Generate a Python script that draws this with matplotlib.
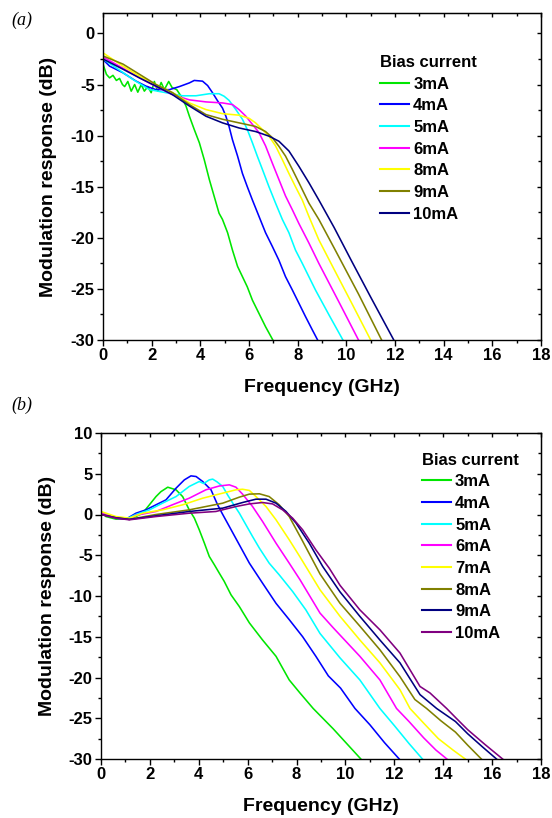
import matplotlib
matplotlib.use("Agg")
import matplotlib.pyplot as plt
from matplotlib.ticker import MultipleLocator

plt.rcParams['font.family'] = ['Liberation Sans', 'DejaVu Sans']
plt.rcParams['font.weight'] = 'bold'
plt.rcParams['axes.unicode_minus'] = False

# ---------------- Panel (a) data ----------------
labels_a = ['3mA', '4mA', '5mA', '6mA', '8mA', '9mA', '10mA']
colors_a = ['#00e600', '#0000ff', '#00ffff', '#ff00ff', '#ffff00', '#808000', '#000080']

f_a_3 = [0, 0.14, 0.27, 0.41, 0.55, 0.68, 0.80, 0.89, 1.02, 1.16, 1.30, 1.43, 1.57, 1.70, 1.84,
         1.98, 2.11, 2.25, 2.39, 2.52, 2.70, 2.84, 3.03, 3.21, 3.41, 3.55, 3.75, 3.96, 4.16, 4.37,
         4.57, 4.77, 4.91, 5.12, 5.32, 5.53, 5.73, 5.93, 6.14, 6.41, 6.68, 6.98]
db_a_3 = [-3.0, -4.0, -4.35, -4.1, -4.6, -4.4, -5.0, -5.2, -4.7, -5.65, -5.0, -5.75, -5.0, -5.65, -5.2,
          -5.8, -4.7, -5.65, -4.8, -5.5, -4.7, -5.3, -5.5, -6.15, -7.1, -8.1, -9.4, -10.7, -12.35, -14.3,
          -15.95, -17.6, -18.2, -19.5, -21.2, -22.8, -23.8, -24.8, -26.1, -27.4, -28.7, -30.0]

f_a_4 = [0, 0.27, 0.82, 1.36, 1.77, 2.18, 2.73, 3.14, 3.55, 3.75, 4.09, 4.30, 4.50, 4.71, 4.91, 5.05,
         5.18, 5.32, 5.53, 5.73, 5.93, 6.14, 6.41, 6.68, 6.96, 7.23, 7.50, 7.78, 8.05, 8.32, 8.60, 8.82]
db_a_4 = [-2.55, -3.2, -3.85, -4.67, -5.16, -5.5, -5.5, -5.2, -4.84, -4.6, -4.67, -5.1, -5.8, -6.6, -7.3, -8.1,
          -9.1, -10.4, -12.0, -13.7, -15.0, -16.3, -17.9, -19.5, -20.85, -22.2, -23.8, -25.1, -26.4, -27.7, -29.0, -30.0]

f_a_5 = [0, 0.5, 1.23, 1.91, 2.59, 3.27, 3.82, 4.37, 4.77, 4.98, 5.18, 5.46, 5.73, 5.93, 6.14, 6.34,
         6.55, 6.82, 7.09, 7.37, 7.64, 7.91, 8.19, 8.46, 8.73, 9.30, 9.86]
db_a_5 = [-2.5, -3.3, -4.5, -5.5, -5.8, -6.1, -6.1, -5.9, -5.9, -6.15, -6.55, -7.45, -8.4, -9.4, -10.7, -12.0,
          -13.3, -15.0, -16.6, -18.2, -19.5, -21.2, -22.5, -23.8, -25.1, -27.6, -30.0]

f_a_6 = [0, 0.82, 1.5, 2.18, 2.86, 3.55, 4.23, 4.91, 5.32, 5.59, 5.87, 6.14, 6.41, 6.68, 6.96, 7.23,
         7.5, 7.78, 8.05, 8.46, 8.87, 9.7, 10.5]
db_a_6 = [-2.3, -3.4, -4.35, -5.2, -6.0, -6.5, -6.7, -6.8, -6.96, -7.45, -8.1, -8.9, -9.7, -11.0, -12.7, -14.3,
          -15.9, -17.25, -18.6, -20.5, -22.5, -26.3, -30.0]

f_a_8 = [0, 0.82, 1.5, 2.18, 2.86, 3.55, 4.23, 4.91, 5.59, 6.0, 6.27, 6.55, 6.82, 7.09, 7.37, 7.64,
         7.91, 8.19, 8.46, 8.87, 9.5, 10.2, 11.0]
db_a_8 = [-1.9, -3.2, -4.2, -5.0, -5.8, -6.8, -7.45, -7.85, -8.0, -8.3, -8.75, -9.4, -10.05, -11.0, -12.35, -13.7,
          -15.0, -16.3, -17.9, -20.2, -23.1, -26.3, -30.0]

f_a_9 = [0, 0.82, 1.5, 2.18, 2.86, 3.55, 4.23, 4.91, 5.59, 6.27, 6.68, 6.96, 7.23, 7.5, 7.78, 8.05,
         8.46, 8.87, 9.5, 10.5, 11.45]
db_a_9 = [-2.2, -3.0, -4.0, -5.0, -5.8, -6.96, -7.94, -8.4, -8.75, -9.1, -9.6, -10.2, -11.05, -12.0, -13.3, -14.6,
          -16.6, -18.2, -21.0, -25.5, -30.0]

f_a_10 = [0, 0.82, 1.5, 2.18, 2.86, 3.55, 4.23, 4.91, 5.59, 6.27, 6.82, 7.23, 7.64, 8.05, 8.46, 8.87,
          9.5, 10.2, 11.0, 11.95]
db_a_10 = [-2.5, -3.5, -4.35, -5.16, -6.0, -7.1, -8.1, -8.75, -9.25, -9.6, -10.05, -10.55, -11.5, -13.0, -14.6, -16.3,
           -19.0, -22.2, -25.8, -30.0]

series_a = [(f_a_3, db_a_3), (f_a_4, db_a_4), (f_a_5, db_a_5), (f_a_6, db_a_6),
            (f_a_8, db_a_8), (f_a_9, db_a_9), (f_a_10, db_a_10)]

# ---------------- Panel (b) data ----------------
labels_b = ['3mA', '4mA', '5mA', '6mA', '7mA', '8mA', '9mA', '10mA']
colors_b = ['#00e600', '#0000ff', '#00ffff', '#ff00ff', '#ffff00', '#808000', '#000080', '#800080']

f_b_3 = [0, 0.2, 0.61, 1.02, 1.43, 1.7, 1.98, 2.25, 2.45, 2.73, 3.07, 3.34, 3.61, 3.82, 4.02, 4.23,
         4.43, 4.64, 4.84, 5.04, 5.32, 5.66, 6.07, 6.61, 7.16, 7.7, 8.14, 8.68, 9.5, 10.63]
db_b_3 = [0.37, -0.25, -0.57, -0.57, -0.25, 0.16, 1.19, 2.2, 2.8, 3.35, 3.03, 2.2, 0.57, -0.45, -1.88, -3.52,
          -5.15, -6.18, -7.2, -8.2, -9.86, -11.3, -13.3, -15.4, -17.4, -20.3, -21.9, -23.8, -26.3, -30.0]

f_b_4 = [0, 0.61, 1.02, 1.43, 1.84, 2.25, 2.66, 3.07, 3.41, 3.68, 3.89, 4.16, 4.5, 4.77, 4.98, 5.25,
         5.66, 6.07, 6.61, 7.16, 7.7, 8.25, 8.79, 9.3, 9.8, 10.39, 11.0, 11.6, 12.2]
db_b_4 = [0.2, -0.45, -0.57, 0.16, 0.57, 1.19, 1.8, 3.23, 4.25, 4.74, 4.66, 4.05, 3.03, 1.19, 0.0, -1.47,
          -3.72, -5.97, -8.43, -10.9, -12.9, -15.0, -17.4, -19.8, -21.3, -23.8, -25.8, -28.0, -30.0]

f_b_5 = [0, 0.61, 1.02, 1.43, 1.98, 2.52, 3.07, 3.61, 4.02, 4.2, 4.43, 4.57, 4.75, 4.98, 5.18, 5.39,
         5.66, 5.93, 6.2, 6.48, 6.88, 7.29, 7.84, 8.38, 8.96, 9.78, 10.59, 11.41, 12.0, 12.6, 13.15]
db_b_5 = [0.2, -0.45, -0.57, 0.0, 0.57, 1.4, 2.2, 3.44, 4.05, 3.8, 4.25, 4.34, 4.0, 3.44, 2.4, 1.4,
          0.16, -1.27, -2.7, -4.13, -5.97, -7.4, -9.45, -11.7, -14.6, -17.6, -20.3, -23.8, -25.9, -28.1, -30.0]

f_b_6 = [0, 0.61, 1.16, 1.43, 2.25, 2.93, 3.61, 4.29, 4.84, 5.25, 5.52, 5.79, 6.2, 6.61, 7.16, 7.7,
         8.14, 8.96, 9.5, 10.59, 11.41, 12.09, 12.6, 13.2, 13.7, 14.15]
db_b_6 = [0.2, -0.45, -0.6, -0.1, 0.37, 1.2, 2.0, 3.03, 3.5, 3.64, 3.35, 2.5, 0.98, -0.86, -3.52, -5.97,
          -8.0, -12.1, -13.9, -17.4, -20.3, -23.8, -25.4, -27.4, -28.9, -30.0]

f_b_7 = [0, 0.61, 1.16, 1.7, 2.52, 3.34, 4.16, 4.98, 5.52, 5.79, 6.07, 6.34, 6.75, 7.16, 7.7, 8.14,
         8.96, 9.78, 10.59, 11.41, 12.23, 12.64, 13.2, 13.8, 14.4, 14.9]
db_b_7 = [0.37, -0.25, -0.45, 0.16, 0.57, 1.19, 2.0, 2.62, 3.03, 3.1, 2.95, 2.2, 0.98, -0.65, -3.1, -5.2,
          -9.24, -12.5, -15.4, -18.2, -21.5, -23.8, -25.6, -27.5, -28.9, -30.0]

f_b_8 = [0, 0.61, 1.16, 2.25, 3.61, 4.98, 5.66, 6.07, 6.48, 6.88, 7.29, 7.7, 8.2, 8.96, 9.78, 10.59,
         11.41, 12.23, 12.84, 13.32, 13.9, 14.5, 15.0, 15.56]
db_b_8 = [0.0, -0.4, -0.6, 0.0, 0.57, 1.39, 2.13, 2.5, 2.54, 2.2, 1.19, -0.25, -3.0, -7.3, -10.9, -13.7,
          -16.6, -19.9, -22.7, -23.8, -25.3, -26.7, -28.3, -30.0]

f_b_9 = [0, 0.61, 1.16, 2.25, 3.61, 4.98, 5.79, 6.34, 6.75, 7.16, 7.57, 7.98, 8.52, 9.07, 9.78, 10.59,
         11.41, 12.23, 13.05, 13.73, 14.5, 15.0, 15.6, 16.18]
db_b_9 = [0.0, -0.4, -0.6, -0.16, 0.37, 0.78, 1.47, 1.88, 1.88, 1.39, 0.37, -1.06, -3.52, -6.38, -9.5, -12.5,
          -15.4, -18.2, -22.1, -23.8, -25.4, -26.9, -28.5, -30.0]

f_b_10 = [0, 0.61, 1.16, 2.25, 3.61, 4.7, 5.52, 6.07, 6.61, 7.02, 7.43, 7.84, 8.25, 8.79, 9.34, 9.78,
          10.59, 11.41, 12.23, 13.05, 13.46, 14.14, 14.5, 15.0, 15.7, 16.43]
db_b_10 = [0.0, -0.45, -0.65, -0.25, 0.16, 0.37, 0.98, 1.3, 1.47, 1.3, 0.57, -0.45, -1.88, -4.34, -6.6, -8.7,
           -11.7, -14.15, -17.0, -21.1, -21.9, -23.8, -24.9, -26.4, -28.2, -30.0]

series_b = [(f_b_3, db_b_3), (f_b_4, db_b_4), (f_b_5, db_b_5), (f_b_6, db_b_6),
            (f_b_7, db_b_7), (f_b_8, db_b_8), (f_b_9, db_b_9), (f_b_10, db_b_10)]

x_ticks = [0, 2, 4, 6, 8, 10, 12, 14, 16, 18]
W, H = 552, 818
fig = plt.figure(figsize=(W / 100, H / 100), dpi=100)


def px_axes(left, top, right, bottom):
    return fig.add_axes([left / W, 1 - bottom / H, (right - left) / W, (bottom - top) / H])


def style(ax, ylim, yticks, ylab_x, leg_xy, series, labels, colors):
    for (f, d), lab, c in zip(series, labels, colors):
        ax.plot(f, d, color=c, lw=1.15, label=lab)
    ax.set_xlim(0, 18)
    ax.set_ylim(*ylim)
    ax.set_xticks(x_ticks)
    ax.set_yticks(yticks)
    ax.xaxis.set_minor_locator(MultipleLocator(1))
    ax.yaxis.set_minor_locator(MultipleLocator(2.5))
    ax.tick_params(which='major', direction='out', length=4, width=1.0, labelsize=12, pad=2)
    ax.tick_params(which='minor', direction='out', length=2.5, width=1.0)
    for lab in ax.get_xticklabels() + ax.get_yticklabels():
        lab.set_fontweight('bold')
    for s in ax.spines.values():
        s.set_linewidth(1.0)
    top = ax.secondary_xaxis('top')
    top.set_xticks(x_ticks)
    top.xaxis.set_minor_locator(MultipleLocator(1))
    top.tick_params(which='both', direction='in', labeltop=False, width=1.0)
    top.tick_params(which='major', length=3)
    top.tick_params(which='minor', length=2)
    right = ax.secondary_yaxis('right')
    right.set_yticks(yticks)
    right.yaxis.set_minor_locator(MultipleLocator(2.5))
    right.tick_params(which='both', direction='in', labelright=False, width=1.0)
    right.tick_params(which='major', length=3)
    right.tick_params(which='minor', length=2)
    ax.set_xlabel('Frequency (GHz)', fontsize=14, fontweight='bold', va='center')
    ax.set_ylabel('Modulation response (dB)', fontsize=14, fontweight='bold', va='center')
    ax.yaxis.set_label_coords(ylab_x, 0.5)
    ax.xaxis.set_label_coords(0.5, -0.145)
    leg = ax.legend(loc='upper left', bbox_to_anchor=leg_xy, frameon=False,
                    title='Bias current', alignment='left',
                    prop={'size': 12, 'weight': 'bold'},
                    title_fontproperties={'size': 12, 'weight': 'bold'},
                    handlelength=1.75, handletextpad=0.25, labelspacing=0.4,
                    borderpad=0, borderaxespad=0)
    for line in leg.get_lines():
        line.set_linewidth(1.5)


ax1 = px_axes(103, 13, 541, 340)
style(ax1, (-30, 2), [-30, -25, -20, -15, -10, -5, 0], (49 - 103) / 438, (0.632, 0.872),
      series_a, labels_a, colors_a)

ax2 = px_axes(101, 433, 541, 759)
style(ax2, (-30, 10), [-30, -25, -20, -15, -10, -5, 0, 5, 10], (48 - 101) / 440, (0.729, 0.94),
      series_b, labels_b, colors_b)

fig.text(22 / W, 1 - 20 / H, '(a)', fontsize=13, family='Liberation Serif',
         fontstyle='italic', fontweight='normal', ha='center', va='center')
fig.text(22 / W, 1 - 405 / H, '(b)', fontsize=13, family='Liberation Serif',
         fontstyle='italic', fontweight='normal', ha='center', va='center')

fig.savefig('out.png', dpi=100)
